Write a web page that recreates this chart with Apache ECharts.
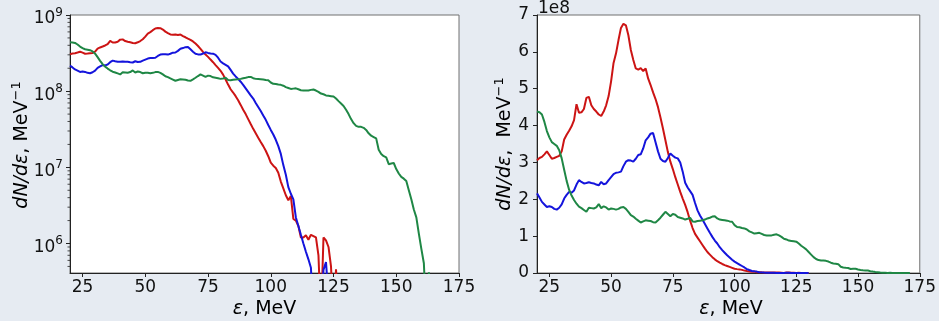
<!DOCTYPE html>
<html>
<head>
<meta charset="utf-8">
<script src="https://cdn.jsdelivr.net/npm/echarts@6/dist/echarts.min.js"></script>
<style>
  html, body { margin: 0; padding: 0; background: #e6ebf2; }
  #chart { width: 939px; height: 321px; }
</style>
</head>
<body>
<div id="chart"></div>
<script>
// Particle energy, MeV
const energy = [
   20,  21,  22,  23,  24,  25,  26,  27,  28,  29,
   30,  31,  32,  33,  34,  35,  36,  37,  38,  39,
   40,  41,  42,  43,  44,  45,  46,  47,  48,  49,
   50,  51,  52,  53,  54,  55,  56,  57,  58,  59,
   60,  61,  62,  63,  64,  65,  66,  67,  68,  69,
   70,  71,  72,  73,  74,  75,  76,  77,  78,  79,
   80,  81,  82,  83,  84,  85,  86,  87,  88,  89,
   90,  91,  92,  93,  94,  95,  96,  97,  98,  99,
  100, 101, 102, 103, 104, 105, 106, 107, 108, 109,
  110, 111, 112, 113, 114, 115, 116, 117, 118, 119,
  120, 121, 122, 123, 124, 125, 126, 127, 128, 129,
  130, 131, 132, 133, 134, 135, 136, 137, 138, 139,
  140, 141, 142, 143, 144, 145, 146, 147, 148, 149,
  150, 151, 152, 153, 154, 155, 156, 157, 158, 159,
  160, 161, 162, 163, 164, 165, 166, 167, 168, 169,
  170, 171
];

// Spectra dN/dε in units of 1e8 MeV^-1
const UNIT = 1e8;

const redSpectrum = [
  3.06, 3.12, 3.15, 3.22, 3.30, 3.20, 3.10, 3.12, 3.15, 3.18,
  3.30, 3.62, 3.75, 3.86, 3.98, 4.15, 4.58, 4.35, 4.36, 4.45,
  4.75, 4.78, 4.55, 4.45, 4.38, 4.30, 4.26, 4.38, 4.55, 4.80,
  5.20, 5.70, 5.96, 6.32, 6.65, 6.76, 6.72, 6.45, 6.05, 5.78,
  5.55, 5.52, 5.56, 5.48, 5.55, 5.28, 5.10, 4.90, 4.72, 4.50,
  4.22, 3.92, 3.60, 3.28, 3.02, 2.82, 2.60, 2.40, 2.20, 2.02,
  1.85, 1.65, 1.42, 1.22, 1.06, 0.96, 0.86, 0.76, 0.66, 0.57,
  0.50, 0.43, 0.37, 0.32, 0.28, 0.245, 0.215, 0.19, 0.165, 0.14,
  0.115, 0.105, 0.098, 0.085, 0.065, 0.053, 0.043, 0.037, 0.042, 0.021,
  0.020, 0.017, 0.012, 0.012, 0.0128, 0.0112, 0.013, 0.0125, 0.012, 0.007,
  0.001, 0.012, 0.011, 0.009, 0.005, 0.001, 0.0046, 0.001, 0, 0,
  0
];

const blueSpectrum = [
  2.16, 2.05, 1.93, 1.86, 1.79, 1.81, 1.79, 1.74, 1.72, 1.77,
  1.86, 2.02, 2.12, 2.20, 2.18, 2.24, 2.40, 2.52, 2.47, 2.43,
  2.44, 2.46, 2.44, 2.43, 2.40, 2.38, 2.47, 2.41, 2.43, 2.52,
  2.60, 2.68, 2.72, 2.73, 2.75, 2.90, 3.02, 3.06, 3.05, 3.02,
  3.10, 3.20, 3.22, 3.38, 3.60, 3.68, 3.78, 3.80, 3.55, 3.30,
  3.10, 3.04, 3.02, 3.12, 3.24, 3.18, 3.13, 3.11, 3.00, 2.75,
  2.45, 2.32, 2.22, 2.12, 1.90, 1.70, 1.56, 1.45, 1.33, 1.21,
  1.09, 0.98, 0.88, 0.80, 0.70, 0.62, 0.55, 0.48, 0.42, 0.36,
  0.31, 0.27, 0.23, 0.19, 0.15, 0.107, 0.08, 0.055, 0.045, 0.038,
  0.022, 0.017, 0.013, 0.010, 0.0078, 0.0062, 0.0048, 0.001, 0.001, 0.001,
  0.001, 0.0045, 0.0057, 0.002, 0.001, 0, 0, 0, 0, 0,
  0
];

const greenSpectrum = [
  4.38, 4.36, 4.30, 4.10, 3.85, 3.68, 3.55, 3.50, 3.45, 3.33,
  3.11, 2.80, 2.50, 2.26, 2.10, 1.98, 1.88, 1.80, 1.76, 1.71,
  1.66, 1.77, 1.76, 1.75, 1.78, 1.87, 1.76, 1.81, 1.78, 1.72,
  1.75, 1.74, 1.72, 1.74, 1.78, 1.79, 1.74, 1.66, 1.57, 1.53,
  1.47, 1.42, 1.37, 1.40, 1.43, 1.42, 1.41, 1.38, 1.37, 1.43,
  1.50, 1.58, 1.66, 1.60, 1.54, 1.60, 1.58, 1.52, 1.50, 1.48,
  1.45, 1.47, 1.50, 1.40, 1.39, 1.41, 1.42, 1.43, 1.45, 1.48,
  1.50, 1.53, 1.54, 1.48, 1.45, 1.44, 1.43, 1.42, 1.40, 1.39,
  1.30, 1.25, 1.24, 1.22, 1.21, 1.18, 1.13, 1.10, 1.07, 1.08,
  1.09, 1.06, 1.03, 1.02, 1.02, 1.02, 1.04, 1.05, 1.02, 0.98,
  0.93, 0.91, 0.88, 0.87, 0.86, 0.85, 0.80, 0.74, 0.69, 0.64,
  0.57, 0.50, 0.43, 0.38, 0.35, 0.34, 0.34, 0.33, 0.31, 0.28,
  0.26, 0.25, 0.24, 0.17, 0.15, 0.14, 0.135, 0.11, 0.112, 0.114,
  0.095, 0.083, 0.075, 0.071, 0.066, 0.050, 0.038, 0.028, 0.022, 0.0135,
  0.0085, 0.0055, 0.001, 0.0042, 0.001, 0, 0, 0, 0, 0,
  0, 0
];

const xTicks = [25, 50, 75, 100, 125, 150, 175];

const FONT = 'DejaVu Sans';
const TEXT = '#111';
const AXIS = '#222';
const COLORS = { red: '#cc1414', blue: '#1414dc', green: '#1f8745' };

// On the log panel non-positive samples are pushed far below the axis,
// so the curve drops straight out of the plot area.
function toPairs(values, logScale) {
  return values.map((v, i) => {
    const y = v * UNIT;
    return [energy[i], logScale ? (y > 0 ? y : 1) : y];
  });
}

// Minor ticks of the log axis: 2..9 x 10^n
const minorLogTicks = [];
for (let p = 5; p <= 8; p++) {
  for (let m = 2; m <= 9; m++) {
    const v = m * Math.pow(10, p);
    if (v >= 4.1e5 && v <= 1e9) minorLogTicks.push([20, v]);
  }
}

function xAxisFor(gridIndex) {
  return {
    type: 'value', gridIndex, min: 20, max: 175,
    axisLine: { show: true, lineStyle: { color: AXIS, width: 1 } },
    axisTick: { show: true, length: 4, customValues: xTicks, lineStyle: { color: AXIS } },
    axisLabel: { customValues: xTicks, color: TEXT, fontSize: 17, fontFamily: FONT, margin: 6 },
    splitLine: { show: false }
  };
}

function lineSeries(name, values, color, gridIndex, logScale) {
  return {
    type: 'line', name, xAxisIndex: gridIndex, yAxisIndex: gridIndex,
    data: toPairs(values, logScale),
    showSymbol: false, symbol: 'none', clip: true,
    lineStyle: { color, width: 2 },
    silent: true
  };
}

const titleRich = {
  i: { fontFamily: FONT, fontSize: 19, fontStyle: 'italic', color: TEXT, lineHeight: 24 },
  n: { fontFamily: FONT, fontSize: 19, color: TEXT, lineHeight: 24 },
  s: { fontFamily: FONT, fontSize: 13, color: TEXT, lineHeight: 13, verticalAlign: 'top' }
};

const gridStyle = { show: true, backgroundColor: '#ffffff', borderColor: '#707070', borderWidth: 1 };

const option = {
  backgroundColor: '#e6ebf2',
  animation: false,
  grid: [
    Object.assign({ left: 70, top: 15, width: 389, height: 258 }, gridStyle),
    Object.assign({ left: 537, top: 15, width: 388, height: 258 }, gridStyle)
  ],
  xAxis: [xAxisFor(0), xAxisFor(1)],
  yAxis: [
    {
      type: 'log', logBase: 10, gridIndex: 0, min: 4.1e5, max: 1e9,
      axisLine: { show: true, lineStyle: { color: AXIS, width: 1 } },
      axisTick: { show: true, length: 4, lineStyle: { color: AXIS } },
      axisLabel: {
        showMinLabel: false, margin: 7,
        formatter: v => '{b|10}{s|' + Math.round(Math.log10(v)) + '}',
        rich: {
          b: { fontFamily: FONT, fontSize: 17, color: TEXT, lineHeight: 17, padding: [8, 0, 0, 0] },
          s: { fontFamily: FONT, fontSize: 12, color: TEXT, lineHeight: 12, verticalAlign: 'top' }
        }
      },
      splitLine: { show: false }
    },
    {
      type: 'value', gridIndex: 1, min: 0, max: 7 * UNIT, interval: UNIT,
      axisLine: { show: true, lineStyle: { color: AXIS, width: 1 } },
      axisTick: { show: true, length: 4, lineStyle: { color: AXIS } },
      axisLabel: {
        margin: 8, color: TEXT, fontSize: 17, fontFamily: FONT,
        formatter: v => String(Math.round(v / UNIT))
      },
      splitLine: { show: false }
    }
  ],
  series: [
    lineSeries('red', redSpectrum, COLORS.red, 0, true),
    lineSeries('blue', blueSpectrum, COLORS.blue, 0, true),
    lineSeries('green', greenSpectrum, COLORS.green, 0, true),
    lineSeries('red', redSpectrum, COLORS.red, 1, false),
    lineSeries('blue', blueSpectrum, COLORS.blue, 1, false),
    lineSeries('green', greenSpectrum, COLORS.green, 1, false),
    {
      type: 'custom', xAxisIndex: 0, yAxisIndex: 0, silent: true, z: 5,
      data: minorLogTicks,
      renderItem: (params, api) => {
        const p = api.coord([api.value(0), api.value(1)]);
        return {
          type: 'line',
          shape: { x1: p[0] - 2.5, y1: p[1], x2: p[0], y2: p[1] },
          style: { stroke: AXIS, lineWidth: 0.8 }
        };
      }
    }
  ],
  graphic: [
    {
      type: 'text', x: 22, y: 145, rotation: Math.PI / 2,
      style: { text: '{i|dN/dε}{n|, MeV}{s|−1}', rich: titleRich, align: 'center', verticalAlign: 'middle' }
    },
    {
      type: 'text', x: 505, y: 144, rotation: Math.PI / 2,
      style: { text: '{i|dN/dε}{n|,  MeV}{s|−1}', rich: titleRich, align: 'center', verticalAlign: 'middle' }
    },
    {
      type: 'text', x: 264.5, y: 309,
      style: { text: '{i|ε}{n|, MeV}', rich: titleRich, align: 'center', verticalAlign: 'middle' }
    },
    {
      type: 'text', x: 731, y: 309,
      style: { text: '{i|ε}{n|, MeV}', rich: titleRich, align: 'center', verticalAlign: 'middle' }
    },
    {
      type: 'text', x: 538, y: 8.5,
      style: { text: '1e8', fontFamily: FONT, fontSize: 17, fill: TEXT, align: 'left', verticalAlign: 'middle' }
    }
  ]
};

const chart = echarts.init(document.getElementById('chart'), null, { renderer: 'canvas' });
chart.setOption(option);
</script>
</body>
</html>
